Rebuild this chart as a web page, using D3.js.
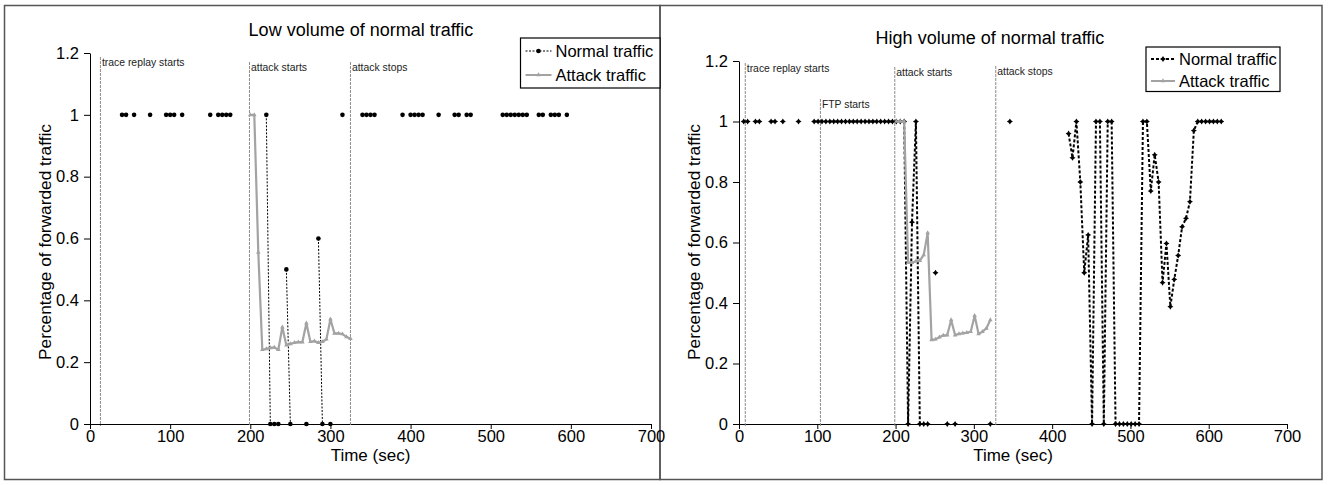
<!DOCTYPE html>
<html>
<head>
<meta charset="utf-8">
<script src="https://cdn.jsdelivr.net/npm/d3@7"></script>
<style>
  body { margin: 0; background: #fff; }
  svg { font-family: "Liberation Sans", Arial, sans-serif; }
</style>
</head>
<body>
<script>
// axis ticks
const xTicks = [0, 100, 200, 300, 400, 500, 600, 700];
const yTicks = [0, 0.2, 0.4, 0.6, 0.8, 1, 1.2];

// low volume panel: normal traffic (null = no sample, line breaks)
const lowNormalTime = [40, 45, 50, 55, 60, 75, 80, 95, 100, 105, 110, 115, 120, 150, 155, 160, 165, 170, 175, 180,
  220, 225, 230, 235, 240, 245, 250, 255, 270, 275, 285, 290, 295, 300, 305, 315, 320,
  340, 345, 350, 355, 360, 390, 395, 400, 405, 410, 415, 420, 435, 440, 455, 460, 465, 470, 475, 480,
  515, 520, 525, 530, 535, 540, 545, 550, 560, 565, 570, 575, 580, 585, 590, 595];
const lowNormalValue = [1, 1, null, 1, null, 1, null, 1, 1, 1, null, 1, null, 1, null, 1, 1, 1, 1, null,
  1, 0, 0, 0, null, 0.5, 0, null, 0, null, 0.6, 0, null, 0, null, 1, null,
  1, 1, 1, 1, null, 1, null, 1, 1, 1, 1, null, 1, null, 1, 1, null, 1, 1, null,
  1, 1, 1, 1, 1, 1, 1, null, 1, 1, null, 1, 1, 1, null, 1];

// low volume panel: attack traffic
const lowAttackTime = [200, 205, 210, 215, 220, 225, 230, 235, 240, 245, 250, 255, 260, 265, 270, 275, 280,
  285, 290, 295, 300, 305, 310, 315, 320, 325];
const lowAttackValue = [1, 1, 0.555, 0.24, 0.243, 0.246, 0.248, 0.24, 0.313, 0.255, 0.259, 0.263, 0.265, 0.265,
  0.326, 0.266, 0.268, 0.263, 0.266, 0.274, 0.339, 0.293, 0.293, 0.291, 0.282, 0.276];

// high volume panel: normal traffic
const highNormalTime = [6, 11, 16, 21, 26, 31, 41, 46, 51, 56, 61, 76, 81,
  96, 101, 106, 111, 116, 121, 126, 131, 136, 141, 146, 151, 156, 161, 166, 171, 176, 181, 186, 191, 196,
  201, 206, 211, 216, 221, 226, 231, 236, 241, 246, 251, 256, 266, 271, 276, 281, 321, 326, 346, 351,
  421, 426, 431, 436, 441, 446, 451, 456, 461, 466, 471, 476, 481, 486, 491, 496, 501, 506, 511,
  516, 521, 526, 531, 536, 541, 546, 551, 556, 561, 566, 571, 576, 581, 586, 591, 596, 601, 606, 611, 616];
const highNormalValue = [1, 1, null, 1, 1, null, 1, 1, null, 1, null, 1, null,
  1, 1, 1, 1, 1, 1, 1, 1, 1, 1, 1, 1, 1, 1, 1, 1, 1, 1, 1, 1, 1,
  1, 1, 1, 0, 0.667, 1, 0, 0, 0, null, 0.5, null, 0, null, 0, null, 0, null, 1, null,
  0.96, 0.88, 1, 0.8, 0.5, 0.625, 0, 1, 1, 0, 1, 1, 0, 0, 0, 0, 0, 0, 0,
  1, 1, 0.77, 0.89, 0.8, 0.467, 0.597, 0.388, 0.478, 0.557, 0.652, 0.68, 0.735, 0.97, 1, 1, 1, 1, 1, 1, 1];

// high volume panel: attack traffic
const highAttackTime = [201, 206, 211, 216, 221, 226, 231, 236, 241, 246, 251, 256, 261, 266, 271, 276, 281,
  286, 291, 296, 301, 306, 311, 316, 321];
const highAttackValue = [1, 1, 1, 0.534, 0.533, 0.538, 0.54, 0.559, 0.632, 0.278, 0.28, 0.287, 0.293, 0.294,
  0.344, 0.294, 0.298, 0.3, 0.302, 0.305, 0.358, 0.298, 0.305, 0.316, 0.344];

// event markers
const lowEventTime = [13, 199, 325];
const lowEventLabel = ["trace replay starts", "attack starts", "attack stops"];
const highEventTime = [8, 104, 199, 328];
const highEventLabel = ["trace replay starts", "FTP starts", "attack starts", "attack stops"];

const seriesNames = ["Normal traffic", "Attack traffic"];

const W = 1328, H = 485;
const gray = "#a3a3a3";

const svg = d3.select("body").append("svg")
  .attr("width", W)
  .attr("height", H);

// outer frames
svg.append("rect").attr("x", 4.5).attr("y", 5.5).attr("width", 655.5).attr("height", 474)
  .attr("fill", "none").attr("stroke", "#555").attr("stroke-width", 1.5);
svg.append("rect").attr("x", 660).attr("y", 5.5).attr("width", 662).attr("height", 474)
  .attr("fill", "none").attr("stroke", "#555").attr("stroke-width", 1.5);

// 4-point star marker for the high volume normal series
const star = {
  draw(ctx, size) {
    const r = Math.sqrt(size) * 0.75, q = r * 0.38;
    ctx.moveTo(0, -r); ctx.lineTo(q, -q); ctx.lineTo(r, 0); ctx.lineTo(q, q);
    ctx.lineTo(0, r); ctx.lineTo(-q, q); ctx.lineTo(-r, 0); ctx.lineTo(-q, -q); ctx.closePath();
  }
};

function zip(t, v) { return t.map((d, i) => ({ t: d, v: v[i] })); }

function drawPanel(p) {
  const g = svg.append("g");
  const x = d3.scaleLinear().domain([0, 700]).range([p.left, p.right]);
  const y = d3.scaleLinear().domain([0, 1.2]).range([424, p.top]);

  // axes
  const yAxis = g.append("g").attr("transform", `translate(${p.left},0)`)
    .call(d3.axisLeft(y).tickValues(yTicks).tickSize(6).tickSizeOuter(0).tickPadding(5)
      .tickFormat(d => (d === 0 || d === 1) ? String(d) : d3.format(".1f")(d)));
  const xAxis = g.append("g").attr("transform", "translate(0,424)")
    .call(d3.axisBottom(x).tickValues(xTicks).tickSize(5).tickSizeOuter(0).tickPadding(1));
  [xAxis, yAxis].forEach(a => {
    a.selectAll("text").attr("font-size", 16.5).attr("fill", "#000").attr("font-family", null);
    a.selectAll("line,path").attr("stroke", "#000");
  });

  // event lines and labels
  p.events.forEach((t, i) => {
    const ex = x(t);
    g.append("line").attr("x1", ex).attr("x2", ex).attr("y1", p.eventTop[i]).attr("y2", 426)
      .attr("stroke", "#8c8c8c").attr("stroke-width", 1).attr("stroke-dasharray", "3,1");
    g.append("text").attr("x", ex + 1.5).attr("y", p.eventTop[i] + 9)
      .attr("font-size", 10.4).attr("fill", "#222").text(p.eventLabels[i]);
  });

  const line = d3.line().defined(d => d.v !== null).x(d => x(d.t)).y(d => y(d.v));
  const normal = zip(p.normalT, p.normalV);
  const attack = zip(p.attackT, p.attackV);

  g.append("path").datum(normal).attr("d", line).attr("fill", "none")
    .attr("stroke", "#000").attr("stroke-width", p.normalWidth).attr("stroke-dasharray", p.normalDash);
  const nMark = normal.filter(d => d.v !== null);
  if (p.highStyle) {
    g.selectAll(".nm").data(nMark).join("path").attr("class", "nm")
      .attr("transform", d => `translate(${x(d.t)},${y(d.v)})`)
      .attr("d", d3.symbol(star, 16)).attr("fill", "#000");
  } else {
    g.selectAll(".nm").data(nMark).join("circle").attr("class", "nm")
      .attr("cx", d => x(d.t)).attr("cy", d => y(d.v)).attr("r", 2.3).attr("fill", "#000");
  }

  g.append("path").datum(attack).attr("d", line).attr("fill", "none")
    .attr("stroke", gray).attr("stroke-width", 2.2).attr("stroke-linejoin", "round");
  g.selectAll(".am").data(attack).join("path").attr("class", "am")
    .attr("transform", d => `translate(${x(d.t)},${y(d.v)})`)
    .attr("d", d3.symbol(d3.symbolTriangle, 9)).attr("fill", gray);

  // titles
  g.append("text").attr("x", p.titleX).attr("y", p.titleY).attr("text-anchor", "middle")
    .attr("font-size", 18).text(p.title);
  g.append("text").attr("x", (p.left + p.right) / 2).attr("y", 461).attr("text-anchor", "middle")
    .attr("font-size", 17).text("Time (sec)");
  g.append("text").attr("transform", `translate(${p.yTitleX},242) rotate(-90)`)
    .attr("text-anchor", "middle").attr("font-size", 17.3).text("Percentage of forwarded traffic");

  // legend
  const L = p.legend;
  g.append("rect").attr("x", L.x).attr("y", L.y).attr("width", L.w).attr("height", L.h)
    .attr("fill", "#fff").attr("stroke", "#000").attr("stroke-width", 1.2);
  seriesNames.forEach((name, i) => {
    const ly = L.y + L.row0 + i * L.step;
    const lx1 = L.x + 5, lx2 = L.x + L.sym;
    const isNormal = i === 0;
    g.append("line").attr("x1", lx1).attr("x2", lx2).attr("y1", ly).attr("y2", ly)
      .attr("stroke", isNormal ? "#000" : gray)
      .attr("stroke-width", isNormal ? p.normalWidth : 2)
      .attr("stroke-dasharray", isNormal ? p.normalDash : null);
    const mx = (lx1 + lx2) / 2;
    if (isNormal && p.highStyle) {
      g.append("path").attr("transform", `translate(${mx},${ly})`).attr("d", d3.symbol(star, 16)).attr("fill", "#000");
    } else if (isNormal) {
      g.append("circle").attr("cx", mx).attr("cy", ly).attr("r", 2.3).attr("fill", "#000");
    } else {
      g.append("path").attr("transform", `translate(${mx},${ly})`).attr("d", d3.symbol(d3.symbolTriangle, 9)).attr("fill", gray);
    }
    g.append("text").attr("x", lx2 + 4).attr("y", ly + 6).attr("font-size", 16.5).text(name);
  });
}

drawPanel({
  left: 90, right: 651, top: 53,
  title: "Low volume of normal traffic", titleX: 361, titleY: 36, yTitleX: 51,
  events: lowEventTime, eventLabels: lowEventLabel, eventTop: [57, 62, 62],
  normalT: lowNormalTime, normalV: lowNormalValue, attackT: lowAttackTime, attackV: lowAttackValue,
  normalWidth: 1, normalDash: "2,1.5", highStyle: false,
  legend: { x: 520.5, y: 38, w: 139.5, h: 50, row0: 13, step: 24, sym: 31 }
});

drawPanel({
  left: 739, right: 1287, top: 61,
  title: "High volume of normal traffic", titleX: 990, titleY: 44, yTitleX: 700,
  events: highEventTime, eventLabels: highEventLabel, eventTop: [63, 99, 67, 66],
  normalT: highNormalTime, normalV: highNormalValue, attackT: highAttackTime, attackV: highAttackValue,
  normalWidth: 2, normalDash: "3,2", highStyle: true,
  legend: { x: 1146, y: 47, w: 134, h: 44.5, row0: 12, step: 22, sym: 29 }
});
</script>
</body>
</html>
